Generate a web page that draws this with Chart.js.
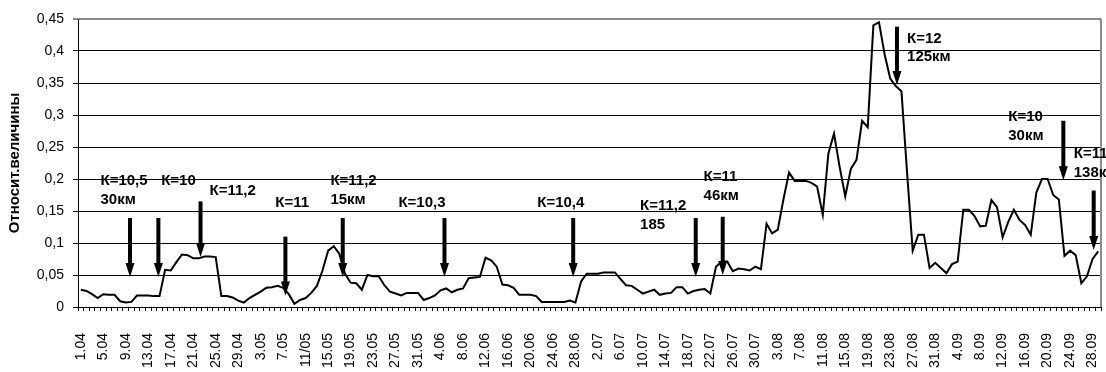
<!DOCTYPE html>
<html>
<head>
<meta charset="utf-8">
<script src="https://cdn.jsdelivr.net/npm/chart.js@4.4.1/dist/chart.umd.min.js"></script>
<style>
  html, body { margin: 0; padding: 0; background: #fff; }
</style>
</head>
<body>
<canvas id="chart" width="1106" height="372"></canvas>
<script>
// daily values, 1.04 ... 29.09
var values = [
  0.027, 0.025, 0.020, 0.014, 0.020, 0.019, 0.019, 0.009, 0.007, 0.008,
  0.018, 0.018, 0.018, 0.017, 0.017, 0.058, 0.057, 0.070, 0.082, 0.081,
  0.076, 0.076, 0.079, 0.079, 0.078, 0.017, 0.017, 0.015, 0.010, 0.007,
  0.014, 0.019, 0.024, 0.030, 0.031, 0.033, 0.030, 0.020, 0.005, 0.011,
  0.014, 0.022, 0.033, 0.057, 0.088, 0.095, 0.083, 0.052, 0.038, 0.037,
  0.027, 0.050, 0.048, 0.048, 0.034, 0.024, 0.021, 0.018, 0.022, 0.022,
  0.022, 0.011, 0.014, 0.018, 0.026, 0.029, 0.023, 0.027, 0.029, 0.045,
  0.046, 0.047, 0.077, 0.073, 0.063, 0.035, 0.034, 0.030, 0.019, 0.019,
  0.019, 0.017, 0.008, 0.008, 0.008, 0.008, 0.008, 0.010, 0.007, 0.040,
  0.052, 0.052, 0.052, 0.054, 0.054, 0.054, 0.044, 0.034, 0.033, 0.027,
  0.021, 0.024, 0.027, 0.019, 0.021, 0.022, 0.031, 0.031, 0.021, 0.025,
  0.027, 0.028, 0.021, 0.063, 0.071, 0.071, 0.056, 0.060, 0.059, 0.057,
  0.063, 0.059, 0.130, 0.115, 0.121, 0.168, 0.210, 0.197, 0.197, 0.197,
  0.194, 0.188, 0.144, 0.240, 0.271, 0.219, 0.173, 0.216, 0.230, 0.291,
  0.281, 0.440, 0.445, 0.395, 0.357, 0.345, 0.337, 0.210, 0.088, 0.113,
  0.113, 0.061, 0.069, 0.061, 0.053, 0.067, 0.071, 0.152, 0.152, 0.142,
  0.126, 0.127, 0.167, 0.156, 0.109, 0.133, 0.152, 0.136, 0.128, 0.113,
  0.179, 0.200, 0.200, 0.175, 0.168, 0.080, 0.088, 0.081, 0.037, 0.048,
  0.075, 0.087
];

// labels under every 4th day, as printed
var xTickLabels = [
  '1.04', '5.04', '9.04', '13.04', '17.04', '21.04', '25.04', '29.04',
  '3.05', '7.05', '11/05', '15.05', '19.05', '23.05', '27.05', '31.05',
  '4.06', '8.06', '12.06', '16.06', '20.06', '24.06', '28.06',
  '2.07', '6.07', '10.07', '14.07', '18.07', '22.07', '26.07', '30.07',
  '3.08', '7.08', '11.08', '15.08', '19.08', '23.08', '27.08', '31.08',
  '4.09', '8.09', '12.09', '16.09', '20.09', '24.09', '28.09'
];

var yTickLabels = ['0', '0,05', '0,1', '0,15', '0,2', '0,25', '0,3', '0,35', '0,4', '0,45'];

// arrows: day index, value at tail, value at tip
var arrows = [
  { at: 8.75, from: 0.139, to: 0.047 },
  { at: 13.8, from: 0.139, to: 0.047 },
  { at: 21.3, from: 0.165, to: 0.078 },
  { at: 36.4, from: 0.110, to: 0.018 },
  { at: 46.6, from: 0.139, to: 0.047 },
  { at: 64.7, from: 0.139, to: 0.047 },
  { at: 87.6, from: 0.139, to: 0.047 },
  { at: 109.4, from: 0.139, to: 0.047 },
  { at: 114.2, from: 0.141, to: 0.050 },
  { at: 145.2, from: 0.438, to: 0.347 },
  { at: 174.8, from: 0.291, to: 0.198 },
  { at: 180.2, from: 0.182, to: 0.089 }
];

// notes: day index of left edge, value of first line
var notes = [
  { at: 3.5, y: 0.197, lines: ['К=10,5', '30км'] },
  { at: 14.3, y: 0.197, lines: ['К=10'] },
  { at: 22.9, y: 0.181, lines: ['К=11,2'] },
  { at: 34.6, y: 0.162, lines: ['К=11'] },
  { at: 44.4, y: 0.197, lines: ['К=11,2', '15км'] },
  { at: 56.5, y: 0.162, lines: ['К=10,3'] },
  { at: 81.2, y: 0.162, lines: ['К=10,4'] },
  { at: 99.5, y: 0.158, lines: ['К=11,2', '185'] },
  { at: 110.8, y: 0.203, lines: ['К=11', '46км'] },
  { at: 147.0, y: 0.419, lines: ['К=12', '125км'] },
  { at: 165.0, y: 0.297, lines: ['К=10', '30км'] },
  { at: 176.65, y: 0.239, lines: ['К=11', '138км'] }
];

// one category per day
var days = [];
var monthLen = [30, 31, 30, 31, 31, 30];
for (var m = 0; m < monthLen.length && days.length < values.length; m++) {
  for (var d = 1; d <= monthLen[m] && days.length < values.length; d++) {
    days.push(d + '.0' + (m + 4));
  }
}

var FONT = '"Liberation Sans", Arial, sans-serif';

var markup = {
  id: 'markup',
  beforeDatasetsDraw: function (chart) {
    var ctx = chart.ctx, a = chart.chartArea;
    ctx.save();
    ctx.strokeStyle = '#8c8c8c';
    ctx.lineWidth = 2;
    ctx.beginPath();
    ctx.moveTo(a.right, a.top);
    ctx.lineTo(a.right, a.bottom);
    ctx.stroke();
    ctx.restore();
  },
  afterDatasetsDraw: function (chart) {
    var ctx = chart.ctx, xs = chart.scales.x, ys = chart.scales.y;
    ctx.save();
    ctx.fillStyle = '#000';
    ctx.strokeStyle = '#000';
    arrows.forEach(function (a) {
      var x = xs.getPixelForValue(a.at);
      var y1 = ys.getPixelForValue(a.from);
      var y2 = ys.getPixelForValue(a.to);
      ctx.lineWidth = 4;
      ctx.beginPath();
      ctx.moveTo(x, y1);
      ctx.lineTo(x, y2 - 12);
      ctx.stroke();
      ctx.beginPath();
      ctx.moveTo(x - 4.5, y2 - 14);
      ctx.lineTo(x + 4.5, y2 - 14);
      ctx.lineTo(x, y2);
      ctx.closePath();
      ctx.fill();
    });
    ctx.font = 'bold 15px ' + FONT;
    ctx.textAlign = 'left';
    ctx.textBaseline = 'middle';
    notes.forEach(function (n) {
      var x = xs.getPixelForValue(n.at);
      var y = ys.getPixelForValue(n.y);
      n.lines.forEach(function (t, k) {
        ctx.fillText(t, x, y + k * 18.5);
      });
    });
    ctx.restore();
  }
};

new Chart(document.getElementById('chart'), {
  type: 'line',
  data: {
    labels: days,
    datasets: [{
      data: values,
      borderColor: '#000',
      borderWidth: 2,
      pointRadius: 0,
      tension: 0,
      fill: false
    }]
  },
  options: {
    responsive: false,
    animation: false,
    devicePixelRatio: 1,
    layout: { padding: { top: 19, right: 5, left: 0, bottom: 0 } },
    plugins: { legend: { display: false }, tooltip: { enabled: false } },
    scales: {
      x: {
        offset: true,
        grid: { offset: true, drawOnChartArea: false, drawTicks: true, tickLength: 4, color: '#000' },
        border: { color: '#000', width: 1 },
        ticks: {
          autoSkip: false,
          minRotation: 90,
          maxRotation: 90,
          padding: 22,
          color: '#000',
          font: { family: FONT, size: 14 },
          callback: function (v, i) { return i % 4 === 0 ? xTickLabels[i / 4] : ''; }
        },
        afterFit: function (s) { s.height = 65; s.paddingLeft = 0; s.paddingRight = 0; }
      },
      y: {
        min: 0,
        max: 0.45,
        ticks: {
          stepSize: 0.05,
          padding: 9,
          color: '#000',
          font: { family: FONT, size: 14 },
          callback: function (v, i) { return yTickLabels[i]; }
        },
        grid: {
          tickLength: 5,
          color: function (c) { return c.tick && c.tick.value > 0.449 ? '#8c8c8c' : '#000'; },
          lineWidth: function (c) { return c.tick && c.tick.value > 0.449 ? 2 : 1; }
        },
        border: { color: '#000', width: 1 },
        title: {
          display: true,
          text: 'Относит.величины',
          color: '#000',
          font: { family: FONT, size: 15, weight: 'bold' },
          padding: { top: 6, bottom: 0 }
        },
        afterFit: function (s) { s.width = 78; s.paddingTop = 0; s.paddingBottom = 0; }
      }
    }
  },
  plugins: [markup]
});
</script>
</body>
</html>
